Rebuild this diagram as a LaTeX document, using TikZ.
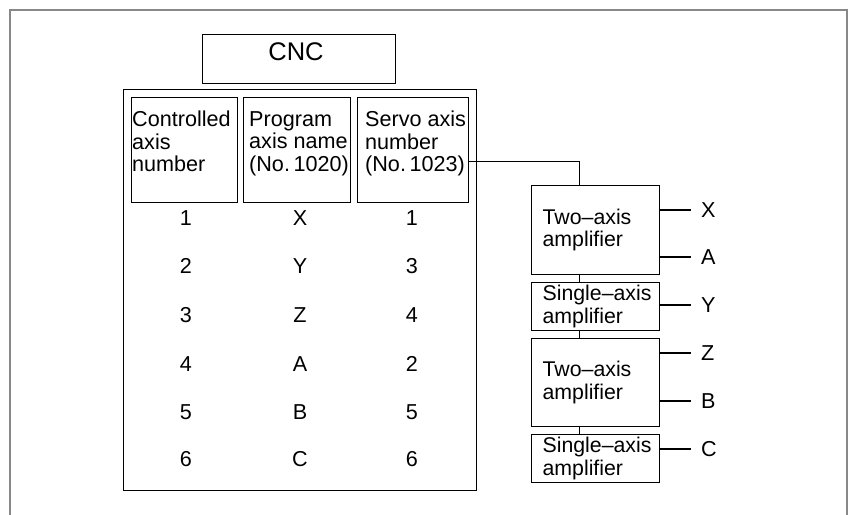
\documentclass[tikz,border=0pt]{standalone}
\usepackage{fontspec}
\setmainfont{Liberation Sans}
\definecolor{framegray}{RGB}{136,136,136}
\begin{document}
\begin{tikzpicture}[x=1pt,y=-1pt,
  box/.style={draw, line width=1.2pt, inner sep=0pt, anchor=north west},
  lbl/.style={font=\fontsize{21.6}{22.5}\selectfont, inner sep=0pt},
  hdr/.style={lbl, align=left, anchor=north west},
  amp/.style={box, minimum width=128pt, align=left, text width=106pt, inner xsep=11pt,
              font=\fontsize{21.3}{22.5}\selectfont},
  wire/.style={line width=1pt},
  outw/.style={line width=1.3pt},
  outl/.style={lbl, inner xsep=10pt, anchor=west},
]
\useasboundingbox (0,0) rectangle (848,514);
\draw[framegray, line width=2pt] (9.5,530) -- (9.5,9.5) -- (846.5,9.5) -- (846.5,530);

% CNC
\node[box, minimum width=193pt, minimum height=49pt] (cnc) at (202,33.5) {};
\node[lbl, font=\fontsize{25.5}{26}\selectfont] (cnclbl) at (296,52) {CNC};

% main table
\node[box, minimum width=353pt, minimum height=401pt] (main) at (123,89) {};
\node[box, minimum width=106pt, minimum height=105pt] (h1) at (131,97) {};
\node[box, minimum width=107pt, minimum height=105pt] (h2) at (243,97) {};
\node[box, minimum width=111pt, minimum height=105pt] (h3) at (357,97) {};
\node[hdr] (t1) at (132,111) {Controlled\\axis\\number};
\node[hdr] (t2) at (249,111) {Program\\axis name\\(No.\,1020)};
\node[hdr] (t3) at (365,111) {Servo axis\\number\\(No.\,1023)};

\foreach \i/\a/\b/\c/\y in {1/1/X/1/218, 2/2/Y/3/266, 3/3/Z/4/315, 4/4/A/2/364, 5/5/B/5/412, 6/6/C/6/459}{
  \node[lbl] (ca\i) at (186,\y) {\a};
  \node[lbl] (cb\i) at (300,\y) {\b};
  \node[lbl] (cc\i) at (412,\y) {\c};
}

% amplifiers
\node[amp, minimum height=89pt] (a1) at (531,185) {\mbox{Two--axis}\\amplifier};
\node[amp, minimum height=48pt] (a2) at (531,282) {\mbox{Single--axis}\\amplifier};
\node[amp, minimum height=88pt] (a3) at (531,338) {\mbox{Two--axis}\\amplifier};
\node[amp, minimum height=48pt] (a4) at (531,434) {\mbox{Single--axis}\\amplifier};

% connectors
\coordinate (j1) at (579,161);
\draw[wire] (h3.east |- j1) -- (j1) -- (j1 |- a1.north);
\draw[wire] (j1 |- a1.south) -- (j1 |- a2.north);
\draw[wire] (j1 |- a2.south) -- (j1 |- a3.north);
\draw[wire] (j1 |- a3.south) -- (j1 |- a4.north);

% outputs
\node[outl] (oX) at (691,210) {X};
\node[outl] (oA) at (691,257) {A};
\node[outl] (oY) at (691,305) {Y};
\node[outl] (oZ) at (691,353) {Z};
\node[outl] (oB) at (691,401) {B};
\node[outl] (oC) at (691,449) {C};
\draw[outw] (a1.east |- oX) -- (oX.west);
\draw[outw] (a1.east |- oA) -- (oA.west);
\draw[outw] (a2.east |- oY) -- (oY.west);
\draw[outw] (a3.east |- oZ) -- (oZ.west);
\draw[outw] (a3.east |- oB) -- (oB.west);
\draw[outw] (a4.east |- oC) -- (oC.west);
\end{tikzpicture}
\end{document}
